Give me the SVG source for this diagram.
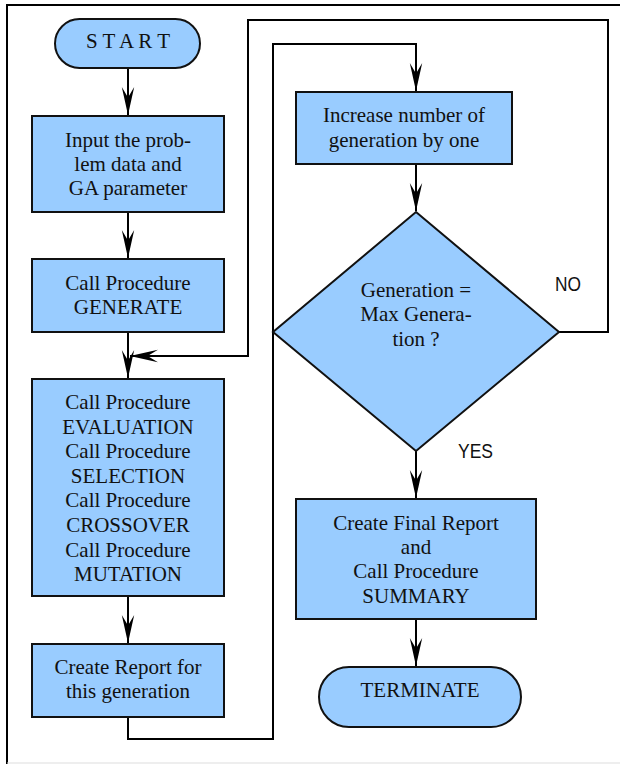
<svg xmlns="http://www.w3.org/2000/svg" width="620" height="764" viewBox="0 0 620 764">
  <style>
    .box { fill: #99CCFF; stroke: #111; stroke-width: 2; }
    .conn { fill: none; stroke: #000; stroke-width: 2; }
    .t { font-family: "Liberation Serif", "Times New Roman", serif; font-size: 21px; fill: #111; text-anchor: middle; }
    .lbl { font-family: "Liberation Sans", Arial, sans-serif; font-size: 21px; fill: #111; }
  </style>
  <defs>
    <marker id="arr" markerUnits="userSpaceOnUse" markerWidth="30" markerHeight="16" viewBox="-28 -7 29 14" refX="0" refY="0" orient="auto">
      <path d="M0,0 L-27,-6 L-17,0 L-27,6 Z" fill="#000"/>
    </marker>
  </defs>
  <rect x="0" y="0" width="620" height="764" fill="#fff"/>
  <path d="M7,764 V5 H620" fill="none" stroke="#000" stroke-width="2"/>
  <line x1="7" y1="763" x2="620" y2="763" stroke="#ddd" stroke-width="1"/>

  <g id="connectors">
    <path class="conn" d="M128,68 V115" marker-end="url(#arr)"/>
    <path class="conn" d="M128,212 V258" marker-end="url(#arr)"/>
    <path class="conn" d="M128,332 V378" marker-end="url(#arr)"/>
    <path class="conn" d="M559,332 H608 V20 H248 V356 H130" marker-end="url(#arr)"/>
    <path class="conn" d="M128,596 V643" marker-end="url(#arr)"/>
    <path class="conn" d="M128,717 V739 H273 V44 H416 V91" marker-end="url(#arr)"/>
    <path class="conn" d="M416,164 V211" marker-end="url(#arr)"/>
    <path class="conn" d="M416,451 V498" marker-end="url(#arr)"/>
    <path class="conn" d="M416,619 V666" marker-end="url(#arr)"/>
  </g>

  <g id="start">
    <rect class="box" x="55" y="19" width="145" height="49" rx="24.5"/>
    <text class="t" x="128" y="48">S T A R T</text>
  </g>
  <g id="input">
    <rect class="box" x="32" y="116" width="192" height="96"/>
    <text class="t" x="128" y="147">Input the prob-</text>
    <text class="t" x="128" y="171">lem data and</text>
    <text class="t" x="128" y="195">GA parameter</text>
  </g>
  <g id="generate">
    <rect class="box" x="32" y="259" width="192" height="73"/>
    <text class="t" x="128" y="290">Call Procedure</text>
    <text class="t" x="128" y="314">GENERATE</text>
  </g>
  <g id="procedures">
    <rect class="box" x="32" y="379" width="192" height="217"/>
    <text class="t" x="128" y="409">Call Procedure</text>
    <text class="t" x="128" y="433.5">EVALUATION</text>
    <text class="t" x="128" y="458">Call Procedure</text>
    <text class="t" x="128" y="482.5">SELECTION</text>
    <text class="t" x="128" y="507">Call Procedure</text>
    <text class="t" x="128" y="532">CROSSOVER</text>
    <text class="t" x="128" y="556.5">Call Procedure</text>
    <text class="t" x="128" y="581">MUTATION</text>
  </g>
  <g id="report">
    <rect class="box" x="32" y="644" width="192" height="73"/>
    <text class="t" x="128" y="674">Create Report for</text>
    <text class="t" x="128" y="698">this generation</text>
  </g>
  <g id="increase">
    <rect class="box" x="296" y="92" width="216" height="72"/>
    <text class="t" x="404" y="122">Increase number of</text>
    <text class="t" x="404" y="147">generation by one</text>
  </g>
  <g id="decision">
    <polygon class="box" points="416,212 559,332 416,451 273,332"/>
    <text class="t" x="416" y="297">Generation =</text>
    <text class="t" x="416" y="321">Max Genera-</text>
    <text class="t" x="416" y="346">tion ?</text>
  </g>
  <g id="labels">
    <text class="lbl" x="555" y="291" textLength="26" lengthAdjust="spacingAndGlyphs">NO</text>
    <text class="lbl" x="458" y="458" textLength="35" lengthAdjust="spacingAndGlyphs">YES</text>
  </g>
  <g id="final">
    <rect class="box" x="296" y="499" width="240" height="120"/>
    <text class="t" x="416" y="530">Create Final Report</text>
    <text class="t" x="416" y="554">and</text>
    <text class="t" x="416" y="578">Call Procedure</text>
    <text class="t" x="416" y="603">SUMMARY</text>
  </g>
  <g id="terminate">
    <rect class="box" x="319" y="667" width="202" height="60" rx="30"/>
    <text class="t" x="420" y="697">TERMINATE</text>
  </g>
</svg>
